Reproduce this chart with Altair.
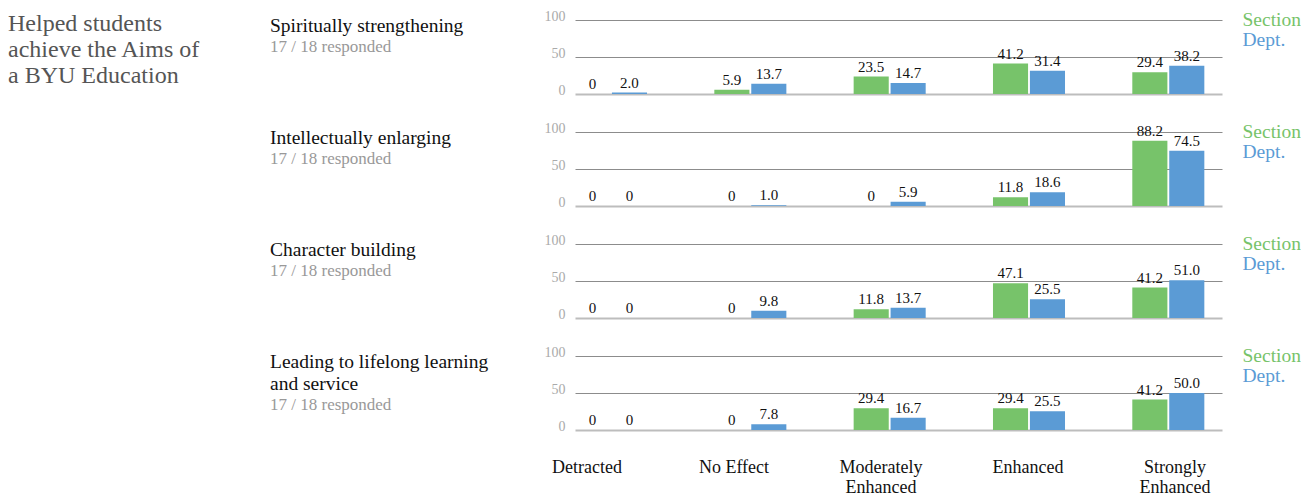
import altair as alt
import pandas as pd

FONT = "Liberation Serif"

categories = ["Detracted", "No Effect", "Moderately Enhanced", "Enhanced", "Strongly Enhanced"]
x_labels = ["Detracted", "No Effect", "Moderately\nEnhanced", "Enhanced", "Strongly\nEnhanced"]
series = ["Section", "Dept."]
colors = ["#77c36a", "#5b9bd5"]

main_title = ["Helped students", "achieve the Aims of", "a BYU Education"]
row_titles = [
    ["Spiritually strengthening"],
    ["Intellectually enlarging"],
    ["Character building"],
    ["Leading to lifelong learning", "and service"],
]
responded = ["17 / 18 responded", "17 / 18 responded", "17 / 18 responded", "17 / 18 responded"]

section_vals = [
    [0, 5.9, 23.5, 41.2, 29.4],
    [0, 0, 0, 11.8, 88.2],
    [0, 0, 11.8, 47.1, 41.2],
    [0, 0, 29.4, 29.4, 41.2],
]
dept_vals = [
    [2.0, 13.7, 14.7, 31.4, 38.2],
    [0, 1.0, 5.9, 18.6, 74.5],
    [0, 9.8, 13.7, 25.5, 51.0],
    [0, 7.8, 16.7, 25.5, 50.0],
]


def fmt(v):
    return "0" if v == 0 else f"{v:.1f}"


def row_chart(i):
    recs = []
    for c, s, d in zip(categories, section_vals[i], dept_vals[i]):
        recs.append({"cat": c, "series": "Section", "value": s, "label": fmt(s)})
        recs.append({"cat": c, "series": "Dept.", "value": d, "label": fmt(d)})
    df = pd.DataFrame(recs)
    yaxis = alt.Axis(values=[0, 50, 100], title=None, domain=False, ticks=False,
                     labelColor="#aaaaaa", labelFont=FONT, labelFontSize=14,
                     labelBaseline="alphabetic", labelPadding=10, labelOverlap=False,
                     grid=True,
                     gridColor=alt.ConditionalAxisColor(condition={"test": "datum.value === 0", "value": "#bdbdbd"}, value="#8c8c8c"),
                     gridWidth=alt.ConditionalAxisNumber(condition={"test": "datum.value === 0", "value": 2}, value=1))
    base = alt.Chart(df).encode(
        x=alt.X("cat:N", sort=categories, axis=None,
                scale=alt.Scale(paddingInner=0.483, paddingOuter=0.0634, align=0)),
        xOffset=alt.XOffset("series:N", sort=series, scale=alt.Scale(paddingInner=0.05)),
        y=alt.Y("value:Q", scale=alt.Scale(domain=[0, 100]), axis=yaxis),
    )
    bars = base.mark_bar().encode(
        color=alt.Color("series:N", sort=series,
                        scale=alt.Scale(domain=series, range=colors),
                        legend=alt.Legend(title=None, orient="none", legendX=648, legendY=-10,
                                          symbolSize=0, symbolOpacity=0, symbolStrokeWidth=0,
                                          labelFont=FONT, labelFontSize=19.5, labelOffset=0,
                                          rowPadding=-4, padding=0,
                                          labelColor=alt.ExprRef("datum.value === 'Section' ? '#77c36a' : '#5b9bd5'"))),
    )
    text = base.mark_text(baseline="bottom", dy=-2, font=FONT, fontSize=15, color="#111111").encode(
        text="label:N"
    )
    nlines = len(row_titles[i])
    return alt.layer(bars, text).properties(
        width=647, height=74,
        title=alt.Title(text=row_titles[i], subtitle=responded[i], anchor="start",
                        font=FONT, fontSize=19.5, fontWeight="normal", color="#111111",
                        subtitleFont=FONT, subtitleFontSize=17, subtitleColor="#999999",
                        subtitlePadding=3, lineHeight=22, dx=-274, dy=47 + 22 * (nlines - 1), offset=0),
    )


rows = [row_chart(i) for i in range(4)]

bottom_df = pd.DataFrame({"cat": categories, "lab": x_labels})
bottom = alt.Chart(bottom_df).mark_text(
    baseline="top", dy=1, font=FONT, fontSize=18, color="#111111", lineBreak="\n", lineHeight=20
).encode(
    x=alt.X("cat:N", sort=categories, axis=None, scale=alt.Scale(type="point", padding=0.0816)),
    text="lab:N",
).properties(width=612, height=1)

chart = alt.vconcat(*rows, bottom, spacing=24).resolve_scale(
    x="independent", y="independent", color="independent", xOffset="independent"
).properties(
    title=alt.Title(text=main_title, anchor="start", frame="bounds", font=FONT, fontSize=24,
                    fontWeight="normal", color="#555555", lineHeight=26, dx=-262, dy=79, offset=0),
    padding={"left": 0, "top": 1, "right": 0, "bottom": 0},
).configure_view(stroke=None)

chart.save("out.html", embed_options={"renderer": "svg", "actions": False})
